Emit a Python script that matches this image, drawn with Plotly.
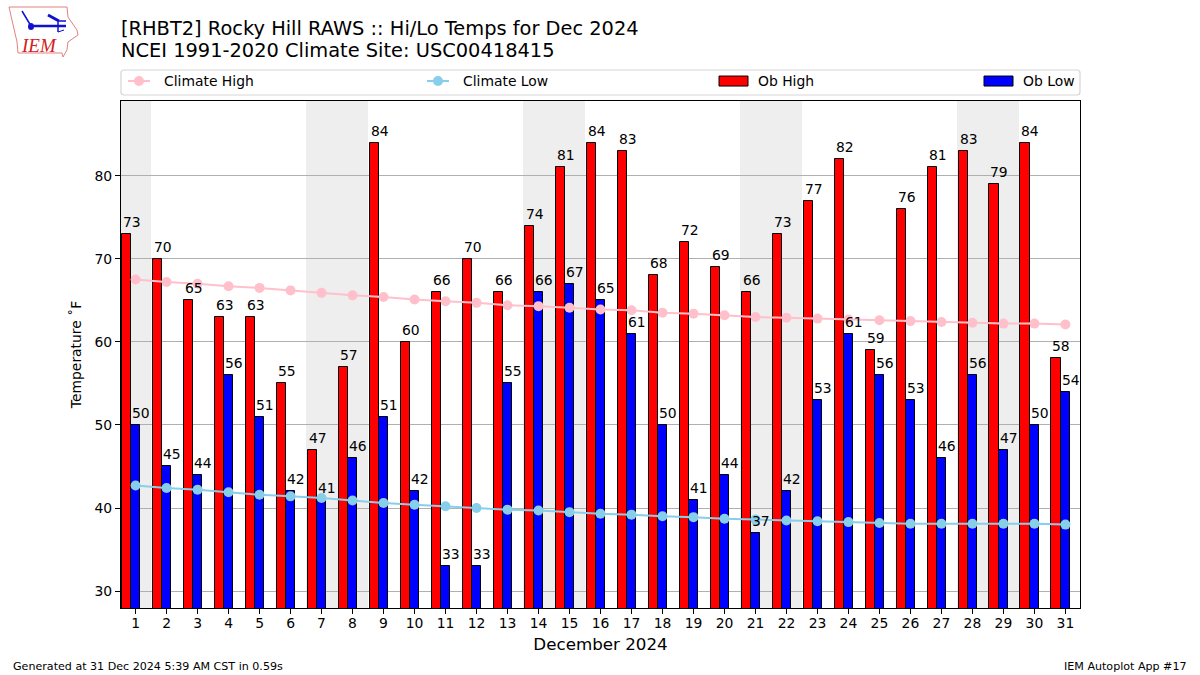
import plotly.graph_objects as go

days = list(range(1, 32))
ob_high = [73,70,65,63,63,55,47,57,84,60,66,70,66,74,81,84,83,68,72,69,66,73,77,82,59,76,81,83,79,84,58]
ob_low = [50,45,44,56,51,42,41,46,51,42,33,33,55,66,67,65,61,50,41,44,37,42,53,61,56,53,46,56,47,50,54]
climate_high = [67.5,67.2,67.0,66.7,66.5,66.2,65.9,65.6,65.4,65.1,64.9,64.7,64.4,64.3,64.1,63.9,63.8,63.5,63.4,63.2,63.0,62.9,62.8,62.7,62.6,62.5,62.4,62.3,62.2,62.2,62.1]
climate_low = [42.7,42.4,42.2,41.9,41.6,41.4,41.2,40.9,40.6,40.4,40.2,40.0,39.8,39.7,39.5,39.3,39.2,39.0,38.9,38.7,38.6,38.5,38.4,38.3,38.2,38.1,38.1,38.1,38.1,38.1,38.0]
weekend_spans = [(0.5, 1.5), (6.5, 8.5), (13.5, 15.5), (20.5, 22.5), (27.5, 29.5)]

W, H = 1200, 675
L, R, T, B = 121, 1080, 101, 608
FONT = "DejaVu Sans"


def px(x):
    return (x - L) / (R - L)


def py(y):
    return (B - y) / (B - T)


fig = go.Figure()
fig.add_trace(go.Scatter(x=days, y=climate_high, mode="lines+markers", name="Climate High", legend="legend",
                         line=dict(color="pink", width=2), marker=dict(color="pink", size=10)))
fig.add_trace(go.Scatter(x=days, y=climate_low, mode="lines+markers", name="Climate Low", legend="legend2",
                         line=dict(color="skyblue", width=2), marker=dict(color="skyblue", size=10)))
fig.add_trace(go.Bar(x=days, y=ob_high, name="Ob High", width=0.3, offset=-0.45, legend="legend3",
                     marker=dict(color="#ff0000", line=dict(color="black", width=1))))
fig.add_trace(go.Bar(x=days, y=ob_low, name="Ob Low", width=0.3, offset=-0.15, legend="legend4",
                     marker=dict(color="#0000ff", line=dict(color="black", width=1))))

shapes = [dict(type="rect", xref="x", yref="paper", x0=a, x1=b, y0=0, y1=1,
               fillcolor="#eeeeee", line_width=0, layer="below") for a, b in weekend_spans]

# rounded frame shared by the four legend entries
x0, x1, y0, y1, r = px(121), px(1080), py(95), py(70), 3
rx, ry = r / (R - L), r / (B - T)
shapes.append(dict(type="path", xref="paper", yref="paper",
                   path=(f"M {x0+rx},{y0} L {x1-rx},{y0} Q {x1},{y0} {x1},{y0+ry} L {x1},{y1-ry} Q {x1},{y1} {x1-rx},{y1} "
                         f"L {x0+rx},{y1} Q {x0},{y1} {x0},{y1-ry} L {x0},{y0+ry} Q {x0},{y0} {x0+rx},{y0} Z"),
                   line=dict(color="#d5d5d5", width=1.2), fillcolor="white"))

# IEM logo drawn as decoration in page coordinates
outline = [(9,7),(67,7),(68,17),(77,30),(78,35),(68,42),(67,50),(63,57),(62,53),(18,53),(17,42),(12,20)]
path = "M " + " L ".join(f"{px(x):.4f},{py(y):.4f}" for x, y in outline) + " Z"
shapes.append(dict(type="path", xref="paper", yref="paper", path=path,
                   line=dict(color="#e58080", width=1), fillcolor="white"))
for seg in [((31,26),(66,26),2.5),((31,26),(22,11),1.5),((48,15),(59,21),3),((59,21),(66,21),1.5),((58,21),(58,32),1.5),((58,32),(64,30),1)]:
    (a0, b0), (a1, b1), w = seg
    shapes.append(dict(type="line", xref="paper", yref="paper", x0=px(a0), y0=py(b0), x1=px(a1), y1=py(b1),
                       line=dict(color="#1010d0", width=w)))
shapes.append(dict(type="circle", xref="paper", yref="paper", x0=px(28), x1=px(34), y0=py(30), y1=py(23),
                   fillcolor="#1010d0", line_width=0))

annotations = []


def label(text, x, y, size, xanchor="left", yanchor="bottom", color="black", family=FONT):
    annotations.append(dict(text=text, xref="paper", yref="paper", x=px(x), y=py(y), showarrow=False,
                            xanchor=xanchor, yanchor=yanchor, align="left", borderpad=0,
                            font=dict(family=family, size=size, color=color)))


for d, hi, lo in zip(days, ob_high, ob_low):
    annotations.append(dict(text=str(hi), x=d - 0.45, y=hi, xref="x", yref="y", showarrow=False,
                            xanchor="left", yanchor="bottom", yshift=3, borderpad=0,
                            font=dict(family=FONT, size=13.9, color="black")))
    annotations.append(dict(text=str(lo), x=d - 0.15, y=lo, xref="x", yref="y", showarrow=False,
                            xanchor="left", yanchor="bottom", yshift=3, borderpad=0,
                            font=dict(family=FONT, size=13.9, color="black")))

label("[RHBT2] Rocky Hill RAWS :: Hi/Lo Temps for Dec 2024", 120, 29, 19.4, yanchor="middle")
label("NCEI 1991-2020 Climate Site: USC00418415", 120, 50.5, 19.4, yanchor="middle")
label("Generated at 31 Dec 2024 5:39 AM CST in 0.59s", 11.5, 666, 11.1, yanchor="middle")
label("IEM Autoplot App #17", 1188, 666, 11.1, xanchor="right", yanchor="middle")
label("<i>IEM</i>", 20, 45.5, 19, yanchor="middle", color="#d42020", family="Liberation Serif, serif")


def legend_at(page_x):
    return dict(orientation="v", x=px(page_x), xanchor="left", y=py(81.5), yanchor="middle",
                itemwidth=30, bgcolor="rgba(0,0,0,0)", borderwidth=0,
                font=dict(family=FONT, size=13.9), itemclick=False, itemdoubleclick=False)


fig.update_layout(
    width=W, height=H, autosize=False,
    margin=dict(l=L, r=W - R, t=T, b=H - B, pad=0),
    paper_bgcolor="white", plot_bgcolor="white",
    barmode="overlay", bargap=0, showlegend=True,
    font=dict(family=FONT, size=13.9, color="black"),
    shapes=shapes, annotations=annotations,
    legend=legend_at(124), legend2=legend_at(423), legend3=legend_at(718), legend4=legend_at(983),
    xaxis=dict(range=[0.53, 31.47], tickmode="array", tickvals=days, ticktext=[str(d) for d in days],
               ticks="outside", ticklen=5, tickwidth=1, tickcolor="black", ticklabelstandoff=-3,
               showline=True, linecolor="black", linewidth=1, mirror=True, showgrid=False, zeroline=False,
               title=dict(text="December 2024", font=dict(size=16.7, family=FONT), standoff=8),
               tickfont=dict(size=13.9, family=FONT)),
    yaxis=dict(range=[27.96, 89], tickmode="array", tickvals=[30, 40, 50, 60, 70, 80],
               ticks="outside", ticklen=5, tickwidth=1, tickcolor="black",
               showline=True, linecolor="black", linewidth=1, mirror=True,
               showgrid=True, gridcolor="#b0b0b0", gridwidth=1, zeroline=False,
               title=dict(text="Temperature ˚F", font=dict(size=13.9, family=FONT), standoff=9),
               tickfont=dict(size=13.9, family=FONT)),
)

post = """
document.body.style.margin='0';document.documentElement.style.margin='0';
function tune(){
  document.querySelectorAll('.legendpoints path').forEach(function(p){
    var d=p.getAttribute('d')||'';
    if(d.indexOf('M6,6H-6V-6H6Z')===0){p.setAttribute('d','M10,5H-19V-5H10Z');}
  });
  document.querySelectorAll('.legendlines path').forEach(function(p){p.setAttribute('d','M4,0h22');});
  document.querySelectorAll('.legendsymbols .scatterpts').forEach(function(p){p.setAttribute('transform','translate(15,0)');});
}
tune();[20,100,300,800].forEach(function(t){setTimeout(tune,t);});
"""
fig.write_html("out.html", config={"displayModeBar": False}, post_script=post)
